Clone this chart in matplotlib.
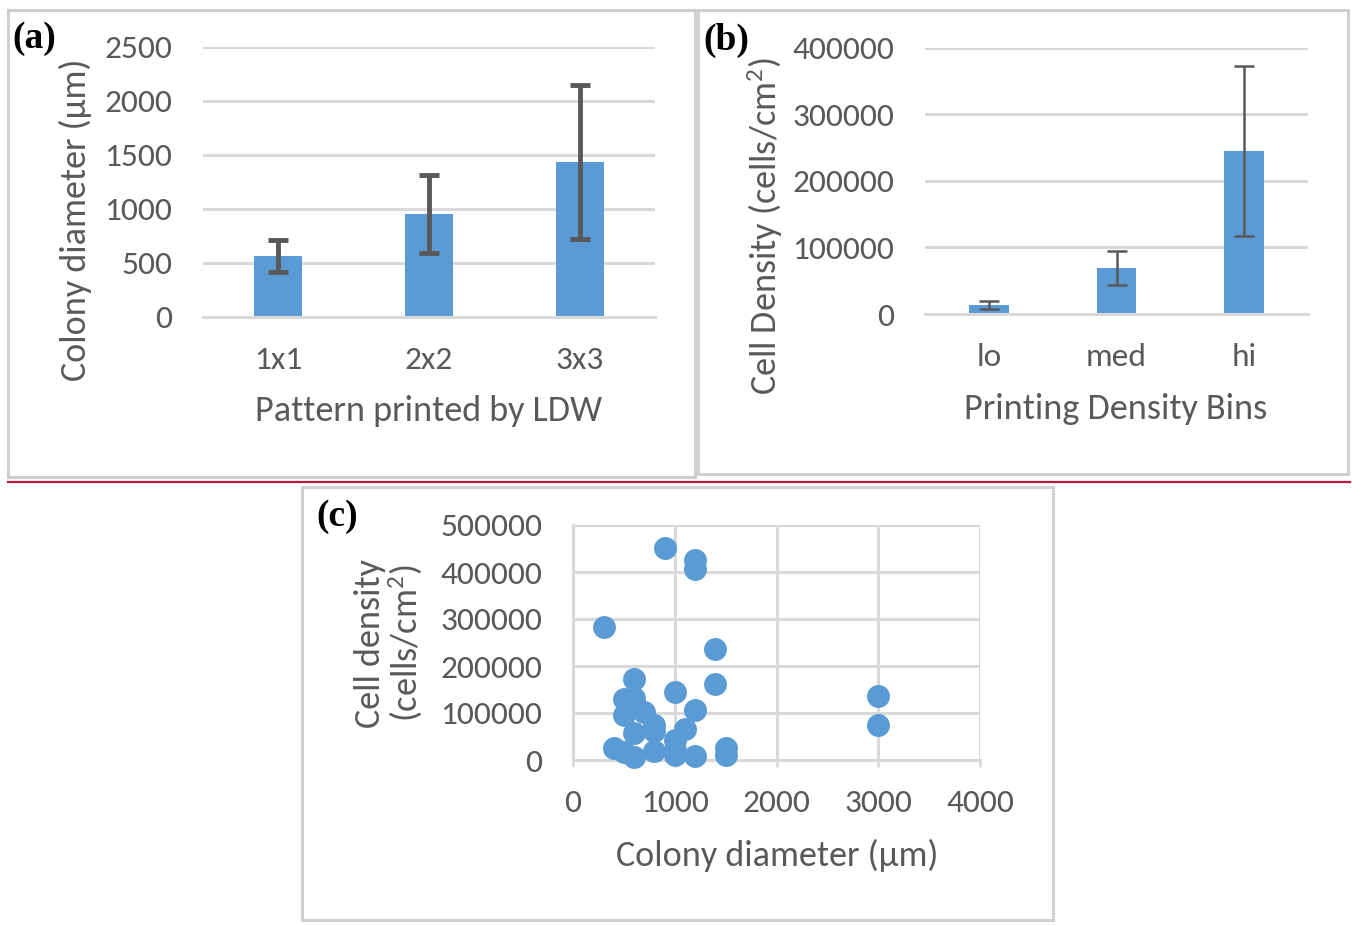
import numpy as np
import matplotlib
matplotlib.use('Agg')
import matplotlib.pyplot as plt
from matplotlib import font_manager
from matplotlib.patches import Rectangle
from matplotlib.lines import Line2D

# datos del panel (a)
patterns = ['1x1', '2x2', '3x3']
diameter_mean = [565, 955, 1435]
diameter_err = [150, 358, 710]

# datos del panel (b)
bins = ['lo', 'med', 'hi']
density_mean = [13500, 69000, 245000]
density_err = [6500, 25000, 128000]

# datos del panel (c)
scatter_diam = [900, 1200, 1200, 300, 1400, 600, 1400, 1000, 3000, 500,
                600, 500, 700, 1200, 800, 800, 3000, 1100, 600, 1000,
                1000, 400, 500, 600, 800, 1000, 1200, 1500, 1500]
scatter_dens = [451000, 426000, 407000, 284000, 237000, 173000, 162000, 145000, 136000, 129000,
                131000, 96000, 102000, 106000, 74500, 62000, 74500, 67000, 58000, 42500,
                21300, 24800, 17700, 7000, 19900, 10600, 8500, 24800, 10600]

# fuente (Carlito ~ Calibri de Excel)
names = {f.name for f in font_manager.fontManager.ttflist}
main_font = 'Carlito' if 'Carlito' in names else 'Roboto'
plt.rcParams['font.family'] = [main_font, 'DejaVu Sans']
plt.rcParams['mathtext.fontset'] = 'custom'
plt.rcParams['mathtext.rm'] = main_font
plt.rcParams['mathtext.it'] = main_font
plt.rcParams['mathtext.bf'] = main_font
serif = 'Liberation Serif'

gray = '#595959'
grid = '#d9d9d9'
blue = '#5b9bd5'
fs = 24
fl = 26

W, H = 1352, 925
fig = plt.figure(figsize=(W / 100, H / 100), dpi=100)


def box(x0, y0, x1, y1, color='#d0d0d0', lw=2.2):
    fig.add_artist(Rectangle((x0 / W, 1 - y1 / H), (x1 - x0) / W, (y1 - y0) / H,
                             transform=fig.transFigure, fill=False, ec=color, lw=lw))


def ax_px(x0, y0, x1, y1):
    return fig.add_axes([x0 / W, 1 - y1 / H, (x1 - x0) / W, (y1 - y0) / H])


def style_bar_ax(ax):
    for s in ['top', 'right', 'left']:
        ax.spines[s].set_visible(False)
    ax.spines['bottom'].set_color(grid)
    ax.spines['bottom'].set_linewidth(2.2)
    ax.yaxis.grid(True, color=grid, lw=2.2)
    ax.set_axisbelow(True)
    ax.tick_params(axis='both', length=0, labelsize=fs, colors=gray)
    ax.tick_params(axis='y', pad=22)
    ax.tick_params(axis='x', pad=21)


# cajas y línea roja
box(8, 10, 695, 477)
box(698, 10, 1348, 474)
box(302, 487, 1053, 920)
fig.add_artist(Line2D([8 / W, 1350 / W], [1 - 482 / H, 1 - 482 / H],
                      transform=fig.transFigure, color='#c0143c', lw=1.6))

# (a)
ax1 = ax_px(203, 47, 655, 317)
x = np.arange(len(patterns))
ax1.bar(x, diameter_mean, width=0.32, color=blue, zorder=2)
ax1.errorbar(x, diameter_mean, yerr=diameter_err, fmt='none', ecolor=gray,
             elinewidth=3.5, capsize=7, capthick=3.5, zorder=3)
ax1.set_xticks(x)
ax1.set_xticklabels(patterns)
ax1.set_xlim(-0.5, 2.5)
ax1.set_ylim(0, 2500)
ax1.set_yticks([0, 500, 1000, 1500, 2000, 2500])
style_bar_ax(ax1)
fig.text(75 / W, 1 - 220 / H, 'Colony diameter (µm)', rotation=90, ha='center', va='center',
         fontsize=fl, color=gray)
fig.text(429 / W, 1 - 411 / H, 'Pattern printed by LDW', ha='center', va='center',
         fontsize=fl, color=gray)
fig.text(12 / W, 1 - 38 / H, '(a)', ha='left', va='center', fontsize=27,
         fontweight='bold', family=serif, color='black')

# (b)
ax2 = ax_px(925, 48, 1308, 314)
x = np.arange(len(bins))
ax2.bar(x, density_mean, width=0.31, color=blue, zorder=2)
ax2.errorbar(x, density_mean, yerr=density_err, fmt='none', ecolor=gray,
             elinewidth=1.8, capsize=7, capthick=1.8, zorder=3)
ax2.set_xticks(x)
ax2.set_xticklabels(bins)
ax2.set_xlim(-0.5, 2.5)
ax2.set_ylim(0, 400000)
ax2.set_yticks([0, 100000, 200000, 300000, 400000])
ax2.set_yticklabels(['0', '100000', '200000', '300000', '400000'])
style_bar_ax(ax2)
fig.text(765 / W, 1 - 226 / H, r'Cell Density (cells/cm$^{2}$)', rotation=90, ha='center',
         va='center', fontsize=fl, color=gray)
fig.text(1116 / W, 1 - 409 / H, 'Printing Density Bins', ha='center', va='center',
         fontsize=fl, color=gray)
fig.text(703 / W, 1 - 40 / H, '(b)', ha='left', va='center', fontsize=27,
         fontweight='bold', family=serif, color='black')

# (c)
ax3 = ax_px(573, 525, 980, 760)
ax3.scatter(scatter_diam, scatter_dens, s=240, color=blue, zorder=3, clip_on=False)
ax3.set_xlim(0, 4000)
ax3.set_ylim(0, 500000)
ax3.set_xticks([0, 1000, 2000, 3000, 4000])
ax3.set_yticks([0, 100000, 200000, 300000, 400000, 500000])
ax3.set_yticklabels(['0', '100000', '200000', '300000', '400000', '500000'])
ax3.grid(True, color=grid, lw=2.2)
ax3.set_axisbelow(True)
for s in ['top', 'right']:
    ax3.spines[s].set_visible(False)
for s in ['left', 'bottom']:
    ax3.spines[s].set_color(grid)
    ax3.spines[s].set_linewidth(2.2)
ax3.tick_params(axis='y', length=0, pad=22, labelsize=fs, colors=gray)
ax3.tick_params(axis='x', length=5, width=2, color=grid, pad=16, labelsize=fs, labelcolor=gray)
fig.text(370 / W, 1 - 643 / H, 'Cell density', rotation=90, ha='center', va='center',
         fontsize=fl, color=gray)
fig.text(405 / W, 1 - 643 / H, r'(cells/cm$^{2}$)', rotation=90, ha='center', va='center',
         fontsize=fl, color=gray)
fig.text(777 / W, 1 - 855 / H, 'Colony diameter (µm)', ha='center', va='center',
         fontsize=fl, color=gray)
fig.text(316 / W, 1 - 516 / H, '(c)', ha='left', va='center', fontsize=27,
         fontweight='bold', family=serif, color='black')

fig.savefig('out.png', dpi=100)
